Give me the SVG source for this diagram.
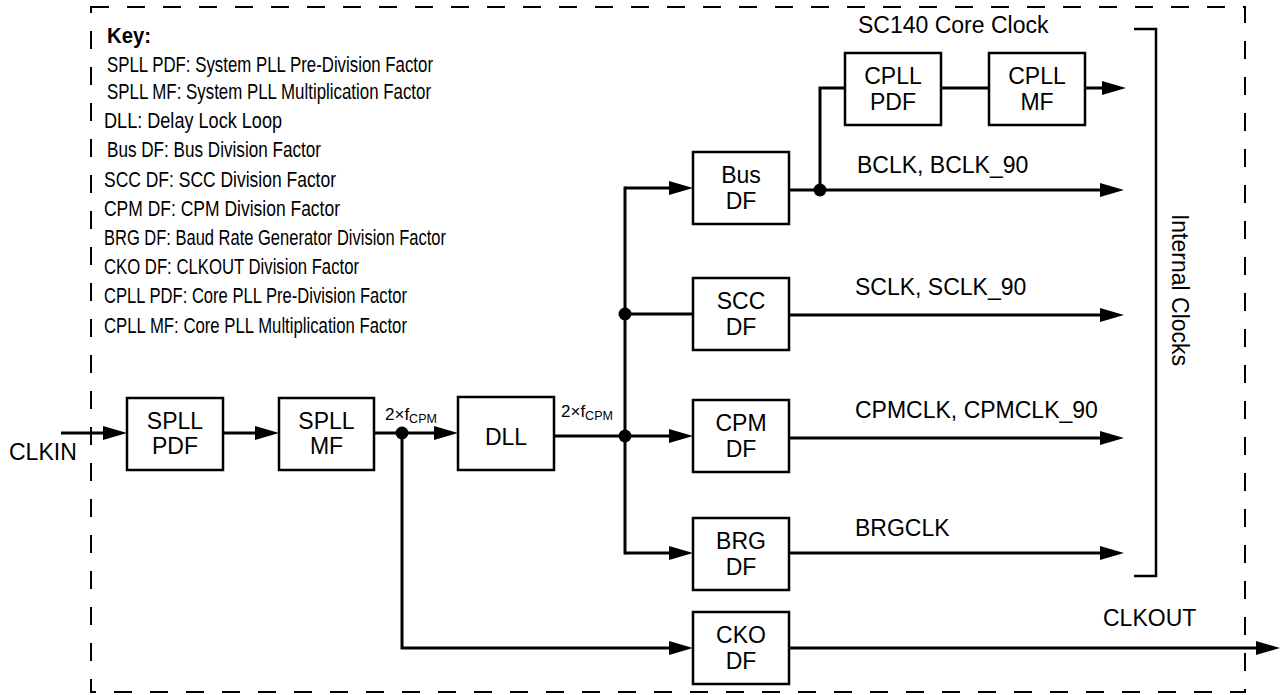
<svg xmlns="http://www.w3.org/2000/svg" width="1282" height="695" viewBox="0 0 1282 695">
<defs>
<style>
text{font-family:"Liberation Sans",Arial,sans-serif;fill:#000}
.lbl{font-size:23px}
.box rect{fill:#fff;stroke:#000;stroke-width:2.5}
.box text{font-size:23px;text-anchor:middle}
.key{font-size:21.5px}
.conn path{fill:none;stroke:#000;stroke-width:3}
.arr{marker-end:url(#ah)}
.dot{fill:#000}
.sm{font-size:17px}
.sub{font-size:12.5px}
</style>
<marker id="ah" markerWidth="24" markerHeight="14" refX="12" refY="7" orient="auto" markerUnits="userSpaceOnUse">
<path d="M0,0 L24,7 L0,14 Z" fill="#000"/>
</marker>
</defs>
<rect width="1282" height="695" fill="#fff"/>
<rect id="border" x="91" y="7" width="1154" height="685" fill="none" stroke="#000" stroke-width="2" stroke-dasharray="18 18"/>

<g id="key">
<text class="key" x="107" y="43" font-weight="bold" textLength="44" lengthAdjust="spacingAndGlyphs">Key:</text>
<text class="key" x="107" y="72" textLength="326" lengthAdjust="spacingAndGlyphs">SPLL PDF: System PLL Pre-Division Factor</text>
<text class="key" x="107" y="99" textLength="324" lengthAdjust="spacingAndGlyphs">SPLL MF: System PLL Multiplication Factor</text>
<text class="key" x="104" y="128" textLength="178" lengthAdjust="spacingAndGlyphs">DLL: Delay Lock Loop</text>
<text class="key" x="107" y="157" textLength="214" lengthAdjust="spacingAndGlyphs">Bus DF: Bus Division Factor</text>
<text class="key" x="104" y="187" textLength="232" lengthAdjust="spacingAndGlyphs">SCC DF: SCC Division Factor</text>
<text class="key" x="104" y="216" textLength="236" lengthAdjust="spacingAndGlyphs">CPM DF: CPM Division Factor</text>
<text class="key" x="104" y="245" textLength="342" lengthAdjust="spacingAndGlyphs">BRG DF: Baud Rate Generator Division Factor</text>
<text class="key" x="104" y="274" textLength="255" lengthAdjust="spacingAndGlyphs">CKO DF: CLKOUT Division Factor</text>
<text class="key" x="104" y="303" textLength="303" lengthAdjust="spacingAndGlyphs">CPLL PDF: Core PLL Pre-Division Factor</text>
<text class="key" x="104" y="333" textLength="303" lengthAdjust="spacingAndGlyphs">CPLL MF: Core PLL Multiplication Factor</text>
</g>

<g id="connectors" class="conn">
<path class="arr" d="M61,433 H115"/>
<path class="arr" d="M223,433 H267"/>
<path class="arr" d="M374,433 H446"/>
<path class="arr" d="M402,433 V648 H681"/>
<path class="arr" d="M554,436 H681"/>
<path d="M625,186.5 V554.5"/>
<path class="arr" d="M625,188 H681"/>
<path class="arr" d="M625,553 H681"/>
<path d="M625,314 H693"/>
<path class="arr" d="M789,190 H1112"/>
<path d="M820,190 V88 H845"/>
<path d="M941,88 H989"/>
<path class="arr" d="M1085,88 H1114"/>
<path class="arr" d="M789,315 H1112"/>
<path class="arr" d="M789,438 H1112"/>
<path class="arr" d="M789,553 H1112"/>
<path class="arr" d="M789,648 H1268"/>
<path d="M1134,29 H1156 V576 H1134" style="stroke-width:2.5"/>
<circle class="dot" cx="402" cy="433" r="6.5"/>
<circle class="dot" cx="625" cy="314" r="6.5"/>
<circle class="dot" cx="625" cy="436" r="6.5"/>
<circle class="dot" cx="820" cy="190" r="6.5"/>
</g>

<g id="spll_pdf" class="box"><rect x="127" y="398" width="96" height="72"/><text x="175" y="429">SPLL</text><text x="175" y="454">PDF</text></g>
<g id="spll_mf" class="box"><rect x="279" y="398" width="95" height="72"/><text x="326.5" y="429">SPLL</text><text x="326.5" y="454">MF</text></g>
<g id="dll" class="box"><rect x="458" y="397" width="96" height="73"/><text x="506" y="445">DLL</text></g>
<g id="bus_df" class="box"><rect x="693" y="152" width="96" height="72"/><text x="741" y="183">Bus</text><text x="741" y="209">DF</text></g>
<g id="scc_df" class="box"><rect x="693" y="278" width="96" height="72"/><text x="741" y="309">SCC</text><text x="741" y="335">DF</text></g>
<g id="cpm_df" class="box"><rect x="693" y="400" width="96" height="72"/><text x="741" y="431">CPM</text><text x="741" y="457">DF</text></g>
<g id="brg_df" class="box"><rect x="693" y="518" width="96" height="72"/><text x="741" y="549">BRG</text><text x="741" y="575">DF</text></g>
<g id="cko_df" class="box"><rect x="693" y="612" width="96" height="72"/><text x="741" y="643">CKO</text><text x="741" y="669">DF</text></g>
<g id="cpll_pdf" class="box"><rect x="845" y="53" width="96" height="72"/><text x="893" y="84">CPLL</text><text x="893" y="110">PDF</text></g>
<g id="cpll_mf" class="box"><rect x="989" y="53" width="96" height="72"/><text x="1037" y="84">CPLL</text><text x="1037" y="110">MF</text></g>

<g id="labels">
<text class="lbl" x="9" y="460">CLKIN</text>
<text class="sm" x="385" y="420">2×f<tspan class="sub" dy="3">CPM</tspan></text>
<text class="sm" x="561" y="417">2×f<tspan class="sub" dy="3">CPM</tspan></text>
<text class="lbl" x="858" y="33">SC140 Core Clock</text>
<text class="lbl" x="857" y="173">BCLK, BCLK_90</text>
<text class="lbl" x="855" y="295">SCLK, SCLK_90</text>
<text class="lbl" x="855" y="418">CPMCLK, CPMCLK_90</text>
<text class="lbl" x="855" y="536">BRGCLK</text>
<text class="lbl" x="1103" y="626">CLKOUT</text>
<text class="lbl" transform="translate(1172,290) rotate(90)" text-anchor="middle">Internal Clocks</text>
</g>
</svg>
